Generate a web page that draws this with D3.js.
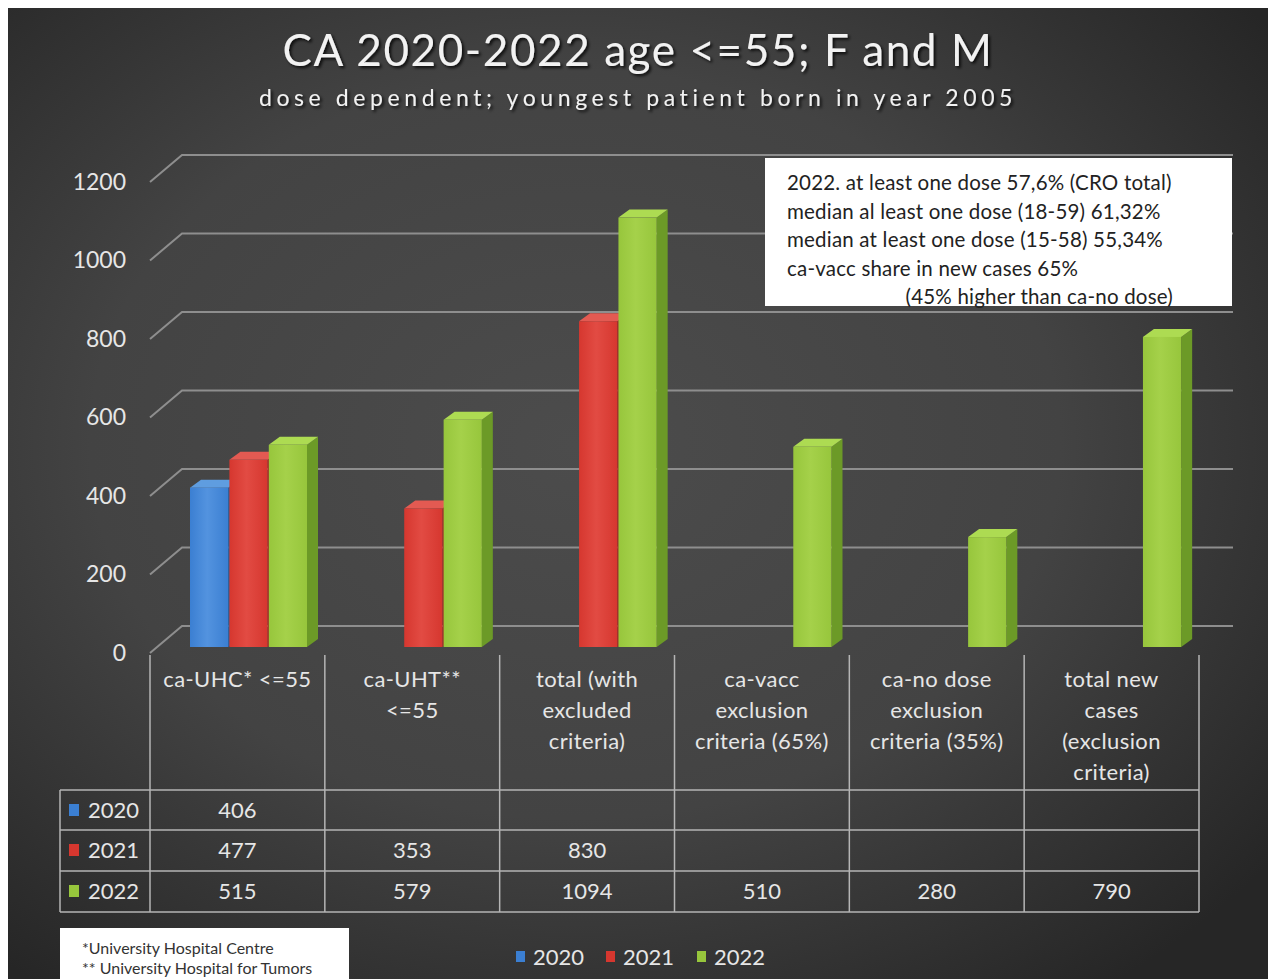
<!DOCTYPE html>
<html>
<head>
<meta charset="utf-8">
<script src="https://cdn.jsdelivr.net/npm/d3@7"></script>
<style>
  body { margin: 0; background: #fff; }
  svg { display: block; font-family: Lato, "Open Sans", sans-serif; }
</style>
</head>
<body>
<div id="chart"></div>
<script>
var svgWidth = 1268;
var svgHeight = 979;

// data
var categories = ["ca-UHC* <=55", "ca-UHT** <=55", "total (with excluded criteria)",
    "ca-vacc exclusion criteria (65%)", "ca-no dose exclusion criteria (35%)",
    "total new cases (exclusion criteria)"];
var categoryLines = [
    ["ca-UHC* <=55"],
    ["ca-UHT**", "<=55"],
    ["total (with", "excluded", "criteria)"],
    ["ca-vacc", "exclusion", "criteria (65%)"],
    ["ca-no dose", "exclusion", "criteria (35%)"],
    ["total new", "cases", "(exclusion", "criteria)"]
];
var years = ["2020", "2021", "2022"];
var values2020 = [406, null, null, null, null, null];
var values2021 = [477, 353, 830, null, null, null];
var values2022 = [515, 579, 1094, 510, 280, 790];
var yTicks = [0, 200, 400, 600, 800, 1000, 1200];
var noteLines = [
    "2022. at least one dose 57,6% (CRO total)",
    "median al least one dose (18-59) 61,32%",
    "median at least one dose (15-58) 55,34%",
    "ca-vacc share in new cases 65%"
];
var noteLast = "(45% higher than ca-no dose)";
var footnotes = ["*University Hospital Centre", "** University Hospital for Tumors"];

var seriesValues = {"2020": values2020, "2021": values2021, "2022": values2022};
var colors = {
    "2020": {front: "#3b7fd2", light: "#5393df", side: "#2a5e9e", top: "#5f9de0"},
    "2021": {front: "#d6372f", light: "#e24b43", side: "#a22722", top: "#e35a52"},
    "2022": {front: "#97c63c", light: "#a5d14a", side: "#6c9a27", top: "#addb52"}
};

var svg = d3.select("#chart")
    .append("svg")
        .attr("width", svgWidth)
        .attr("height", svgHeight);

var defs = svg.append("defs");
var bg = defs.append("radialGradient")
    .attr("id", "bg")
    .attr("cx", "45%").attr("cy", "45%").attr("r", "70%");
bg.append("stop").attr("offset", "0%").attr("stop-color", "#4c4c4c");
bg.append("stop").attr("offset", "55%").attr("stop-color", "#434343");
bg.append("stop").attr("offset", "100%").attr("stop-color", "#262626");

years.forEach(function(yr) {
    var g = defs.append("linearGradient").attr("id", "front" + yr)
        .attr("x1", "0").attr("x2", "1").attr("y1", "0").attr("y2", "0");
    g.append("stop").attr("offset", "0%").attr("stop-color", colors[yr].front);
    g.append("stop").attr("offset", "45%").attr("stop-color", colors[yr].light);
    g.append("stop").attr("offset", "100%").attr("stop-color", colors[yr].front);
});

var shadow = defs.append("filter").attr("id", "shadow")
    .attr("x", "-10%").attr("y", "-20%").attr("width", "120%").attr("height", "160%");
shadow.append("feDropShadow").attr("dx", 2).attr("dy", 2).attr("stdDeviation", 1.5)
    .attr("flood-color", "#000").attr("flood-opacity", 0.8);

svg.append("rect")
    .attr("x", 8).attr("y", 8)
    .attr("width", svgWidth - 8).attr("height", svgHeight - 8)
    .attr("fill", "url(#bg)");

// titles
svg.append("text")
    .attr("x", 638).attr("y", 66)
    .attr("text-anchor", "middle")
    .attr("fill", "#f2f2f2")
    .attr("filter", "url(#shadow)")
    .style("font-size", "44px")
    .style("letter-spacing", "1.6px")
    .text("CA 2020-2022 age <=55; F and M");

svg.append("text")
    .attr("x", 638).attr("y", 106)
    .attr("text-anchor", "middle")
    .attr("fill", "#f2f2f2")
    .attr("filter", "url(#shadow)")
    .style("font-size", "23px")
    .style("letter-spacing", "4.6px")
    .text("dose dependent; youngest patient born in year 2005");

// scales
var tableLeft = 60, plotLeft = 150, plotRight = 1199;
var depthX = 32, depthY = 27;

var x0 = d3.scaleBand()
    .domain(categories)
    .range([plotLeft, plotRight]);

var x1 = d3.scaleBand()
    .domain(years)
    .range([40, 157])
    .paddingInner(0.03);

var yFront = d3.scaleLinear().domain([0, 1200]).range([653, 182]);
var yBar = d3.scaleLinear().domain([0, 1200]).range([647, 176]);

// gridlines (3d wall)
var grid = svg.append("g");
yTicks.forEach(function(t) {
    var yf = yFront(t), yb = yf - depthY;
    grid.append("path")
        .attr("d", "M" + plotLeft + "," + yf + "L" + (plotLeft + depthX) + "," + yb + "L1233," + yb)
        .attr("fill", "none")
        .attr("stroke", "#8e8e8e")
        .attr("stroke-width", 2);
});

// y axis
var yAxis = d3.axisLeft(yFront).tickValues(yTicks).tickFormat(d3.format("d"))
    .tickSize(0).tickPadding(0);
var yAxisG = svg.append("g")
    .attr("transform", "translate(126,0)")
    .call(yAxis);
yAxisG.select(".domain").remove();
yAxisG.selectAll("text")
    .attr("fill", "#e6e6e6")
    .style("font-family", "Lato, sans-serif")
    .style("font-size", "23px");

// bars
var dx = 11, dy = 8;
var bars = svg.append("g");
categories.forEach(function(cat, ci) {
    years.forEach(function(yr) {
        var v = seriesValues[yr][ci];
        if (v == null) return;
        var xl = x0(cat) + x1(yr), w = x1.bandwidth();
        var yt = yBar(v), yb = yBar(0);
        var g = bars.append("g");
        g.append("path")
            .attr("d", "M" + (xl + w) + "," + yt + "L" + (xl + w + dx) + "," + (yt - dy) +
                "L" + (xl + w + dx) + "," + (yb - dy) + "L" + (xl + w) + "," + yb + "Z")
            .attr("fill", colors[yr].side);
        g.append("path")
            .attr("d", "M" + xl + "," + yt + "L" + (xl + dx) + "," + (yt - dy) +
                "L" + (xl + w + dx) + "," + (yt - dy) + "L" + (xl + w) + "," + yt + "Z")
            .attr("fill", colors[yr].top);
        g.append("rect")
            .attr("x", xl).attr("y", yt)
            .attr("width", w).attr("height", yb - yt)
            .attr("fill", "url(#front" + yr + ")");
    });
});

// text box
svg.append("rect")
    .attr("x", 765).attr("y", 158)
    .attr("width", 467).attr("height", 148)
    .attr("fill", "#ffffff");
noteLines.forEach(function(line, i) {
    svg.append("text")
        .attr("x", 787).attr("y", 190 + i * 28.5)
        .attr("fill", "#222")
        .style("font-size", "20.5px")
        .style("letter-spacing", "0.2px")
        .text(line);
});
svg.append("text")
    .attr("x", 1173).attr("y", 304)
    .attr("text-anchor", "end")
    .attr("fill", "#222")
    .style("font-size", "20.5px")
    .style("letter-spacing", "0.2px")
    .text(noteLast);

// data table
var rowTops = [790, 830, 871, 912];
var table = svg.append("g");
var lineColor = "#b5b5b5";

categories.forEach(function(cat) {
    table.append("line")
        .attr("x1", x0(cat)).attr("x2", x0(cat))
        .attr("y1", 655).attr("y2", 912)
        .attr("stroke", lineColor).attr("stroke-width", 1.5);
});
table.append("line")
    .attr("x1", plotRight).attr("x2", plotRight)
    .attr("y1", 655).attr("y2", 912)
    .attr("stroke", lineColor).attr("stroke-width", 1.5);
table.append("line")
    .attr("x1", tableLeft).attr("x2", tableLeft)
    .attr("y1", 790).attr("y2", 912)
    .attr("stroke", lineColor).attr("stroke-width", 1.5);
rowTops.forEach(function(y) {
    table.append("line")
        .attr("x1", tableLeft).attr("x2", plotRight)
        .attr("y1", y).attr("y2", y)
        .attr("stroke", lineColor).attr("stroke-width", 1.5);
});

categories.forEach(function(cat, ci) {
    var cx = x0(cat) + x0.bandwidth() / 2;
    categoryLines[ci].forEach(function(line, li) {
        table.append("text")
            .attr("x", cx).attr("y", 687 + li * 31)
            .attr("text-anchor", "middle")
            .attr("fill", "#e6e6e6")
            .style("font-size", "22px")
            .style("letter-spacing", "0.4px")
            .text(line);
    });
    years.forEach(function(yr, yi) {
        var v = seriesValues[yr][ci];
        if (v == null) return;
        table.append("text")
            .attr("x", cx).attr("y", rowTops[yi] + 28)
            .attr("text-anchor", "middle")
            .attr("fill", "#e6e6e6")
            .style("font-size", "22px")
            .text(v);
    });
});

years.forEach(function(yr, yi) {
    table.append("rect")
        .attr("x", 69).attr("y", rowTops[yi] + 14)
        .attr("width", 10).attr("height", 12)
        .attr("fill", colors[yr].front);
    table.append("text")
        .attr("x", 88).attr("y", rowTops[yi] + 28)
        .attr("fill", "#e6e6e6")
        .style("font-size", "22px")
        .text(yr);
});

// legend
var legendX = d3.scaleOrdinal().domain(years).range([516, 606, 697]);
years.forEach(function(yr) {
    svg.append("rect")
        .attr("x", legendX(yr)).attr("y", 951)
        .attr("width", 9).attr("height", 11)
        .attr("fill", colors[yr].front);
    svg.append("text")
        .attr("x", legendX(yr) + 17).attr("y", 965)
        .attr("fill", "#e6e6e6")
        .style("font-size", "22px")
        .text(yr);
});

// footnote box
svg.append("rect")
    .attr("x", 60).attr("y", 928)
    .attr("width", 289).attr("height", 60)
    .attr("fill", "#ffffff");
footnotes.forEach(function(f, i) {
    svg.append("text")
        .attr("x", 82).attr("y", 954 + i * 20)
        .attr("fill", "#333")
        .style("font-size", "16px")
        .text(f);
});
</script>
</body>
</html>
